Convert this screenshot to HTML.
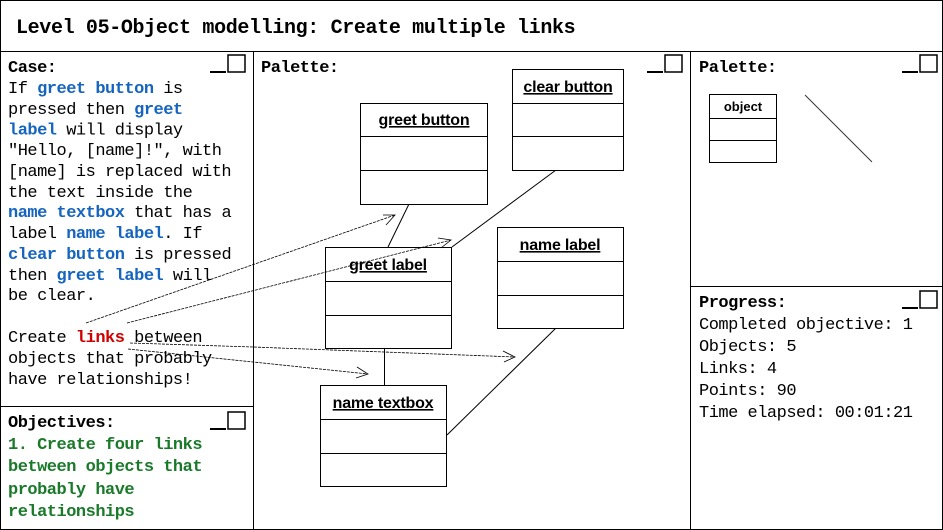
<!DOCTYPE html>
<html><head><meta charset="utf-8"><style>
body{margin:0;background:#fff}
svg{display:block}
.m{font-family:"Liberation Mono",monospace;font-size:17px;letter-spacing:-0.5px}
.b{font-weight:bold}
.bl{fill:#1565c0;font-weight:bold}
.u{font-family:"Liberation Sans",sans-serif;font-size:16px;font-weight:bold;text-decoration:underline;text-anchor:middle;letter-spacing:-0.2px}
</style></head><body>
<svg width="943" height="530" viewBox="0 0 943 530" xmlns="http://www.w3.org/2000/svg">
<g fill="none" stroke="#000" stroke-width="1">
<rect x="0.5" y="0.5" width="942" height="529"/>
<line x1="0" y1="51.5" x2="943" y2="51.5"/>
<line x1="253.5" y1="51" x2="253.5" y2="530"/>
<line x1="690.5" y1="51" x2="690.5" y2="530"/>
<line x1="0" y1="406.5" x2="253" y2="406.5"/>
<line x1="690" y1="286.5" x2="943" y2="286.5"/>
</g>
<g fill="none" stroke="#000" stroke-width="1.5">
<rect x="228" y="55" width="17" height="17"/><line x1="210" y1="72" x2="226" y2="72" stroke-width="2"/>
<rect x="228" y="412" width="17" height="17"/><line x1="210" y1="429" x2="226" y2="429" stroke-width="2"/>
<rect x="665" y="55" width="17" height="17"/><line x1="647" y1="72" x2="663" y2="72" stroke-width="2"/>
<rect x="920" y="55" width="17" height="17"/><line x1="902" y1="72" x2="918" y2="72" stroke-width="2"/>
<rect x="920" y="291" width="17" height="17"/><line x1="902" y1="308" x2="918" y2="308" stroke-width="2"/>
</g>
<text x="16" y="33" class="m b" style="font-size:20px;letter-spacing:-0.35px">Level 05-Object modelling: Create multiple links</text>
<g class="m">
<text x="8" y="72" class="b">Case:</text>
<text x="8" y="93">If <tspan class="bl">greet button</tspan> is</text>
<text x="8" y="114">pressed then <tspan class="bl">greet</tspan></text>
<text x="8" y="134.5"><tspan class="bl">label</tspan> will display</text>
<text x="8" y="155">"Hello, [name]!", with</text>
<text x="8" y="176">[name] is replaced with</text>
<text x="8" y="197">the text inside the</text>
<text x="8" y="217"><tspan class="bl">name textbox</tspan> that has a</text>
<text x="8" y="238">label <tspan class="bl">name label</tspan>. If</text>
<text x="8" y="259"><tspan class="bl">clear button</tspan> is pressed</text>
<text x="8" y="280">then <tspan class="bl">greet label</tspan> will</text>
<text x="8" y="300">be clear.</text>
<text x="8" y="342">Create <tspan style="fill:#d00000;font-weight:bold">links</tspan> between</text>
<text x="8" y="363">objects that probably</text>
<text x="8" y="384">have relationships!</text>
<text x="8" y="427" class="b">Objectives:</text>
<g style="fill:#1a7a2a;font-weight:bold">
<text x="8" y="449">1. Create four links</text>
<text x="8" y="471">between objects that</text>
<text x="8" y="494">probably have</text>
<text x="8" y="516">relationships</text>
</g>
<text x="261" y="72" class="b">Palette:</text>
<text x="699" y="72" class="b">Palette:</text>
<text x="699" y="307" class="b">Progress:</text>
<text x="699" y="329">Completed objective: 1</text>
<text x="699" y="351">Objects: 5</text>
<text x="699" y="373">Links: 4</text>
<text x="699" y="395">Points: 90</text>
<text x="699" y="417">Time elapsed: 00:01:21</text>
</g>
<g stroke="#000" stroke-width="1" fill="none">
<line x1="409" y1="204" x2="388" y2="247"/>
<line x1="556" y1="170" x2="452" y2="247"/>
<line x1="384.5" y1="348" x2="384.5" y2="385"/>
<line x1="556" y1="328" x2="447" y2="435"/>
<line x1="805" y1="95" x2="872" y2="162" stroke="#333"/>
</g>
<g fill="#fff" stroke="#000" stroke-width="1">
<rect x="360.5" y="103.5" width="127" height="101"/><line x1="360" y1="136.5" x2="488" y2="136.5"/><line x1="360" y1="170.5" x2="488" y2="170.5"/>
<rect x="512.5" y="69.5" width="111" height="101"/><line x1="512" y1="103.5" x2="624" y2="103.5"/><line x1="512" y1="136.5" x2="624" y2="136.5"/>
<rect x="325.5" y="247.5" width="126" height="101"/><line x1="325" y1="281.5" x2="452" y2="281.5"/><line x1="325" y1="315.5" x2="452" y2="315.5"/>
<rect x="497.5" y="227.5" width="126" height="101"/><line x1="497" y1="261.5" x2="624" y2="261.5"/><line x1="497" y1="295.5" x2="624" y2="295.5"/>
<rect x="320.5" y="385.5" width="126" height="101"/><line x1="320" y1="419.5" x2="447" y2="419.5"/><line x1="320" y1="453.5" x2="447" y2="453.5"/>
<rect x="709.5" y="94.5" width="67" height="68"/><line x1="709" y1="118.5" x2="777" y2="118.5"/><line x1="709" y1="140.5" x2="777" y2="140.5"/>
</g>
<text x="424" y="125" class="u">greet button</text>
<text x="568" y="92" class="u">clear button</text>
<text x="388" y="270" class="u">greet label</text>
<text x="560" y="250" class="u">name label</text>
<text x="383" y="408" class="u">name textbox</text>
<text x="743" y="111" style="font-family:'Liberation Sans',sans-serif;font-size:13px;font-weight:bold;text-anchor:middle">object</text>
<g stroke="#000" stroke-width="0.8" fill="none" stroke-dasharray="3,1">
<line x1="86" y1="323" x2="395" y2="215"/>
<line x1="127" y1="323" x2="451" y2="240"/>
<polyline points="130,343 253,347 515,357"/>
<polyline points="128,349 253,362 368,374"/>
</g>
<g stroke="#000" stroke-width="0.8" fill="none">
<polyline points="383,215 395,215 386,225"/>
<polyline points="438,238 451,240 441,248"/>
<polyline points="503,351 515,357 504,362"/>
<polyline points="357,367 368,374 356,378"/>
</g>
</svg>
</body></html>
